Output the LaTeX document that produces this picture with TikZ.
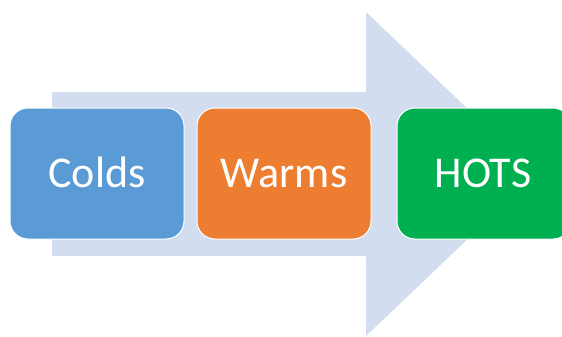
\documentclass[tikz,border=0pt]{standalone}
\usepackage{fontspec}
\setmainfont{Carlito}
\definecolor{arrowfill}{HTML}{D2DDEF}
\definecolor{boxblue}{HTML}{5B9BD5}
\definecolor{boxorange}{HTML}{ED7D31}
\definecolor{boxgreen}{HTML}{00B050}
\begin{document}
\begin{tikzpicture}[x=1pt,y=-1pt,
  stagebox/.style={draw=white, line width=1pt, rounded corners=18pt},
  stagetext/.style={text=white, anchor=base, inner sep=0pt, font=\fontsize{44}{50}\selectfont}]
\useasboundingbox (0,0) rectangle (562,337);
\clip (0,0) rectangle (562,337);
% big arrow
\fill[arrowfill] (52,92) -- (366,92) -- (366,12) -- (536,174) -- (366,336) -- (366,256) -- (52,256) -- cycle;
% boxes
\filldraw[stagebox, fill=boxblue] (10,108) rectangle (184,239);
\filldraw[stagebox, fill=boxorange] (197,108) rectangle (371,239);
\filldraw[stagebox, fill=boxgreen] (397,108) rectangle (571,239);
\node[stagetext] (colds) at (97,187) {Colds};
\node[stagetext] (warms) at (284,187) {Warms};
\node[stagetext] (hots) at (483,187) {HOTS};
\end{tikzpicture}
\end{document}
